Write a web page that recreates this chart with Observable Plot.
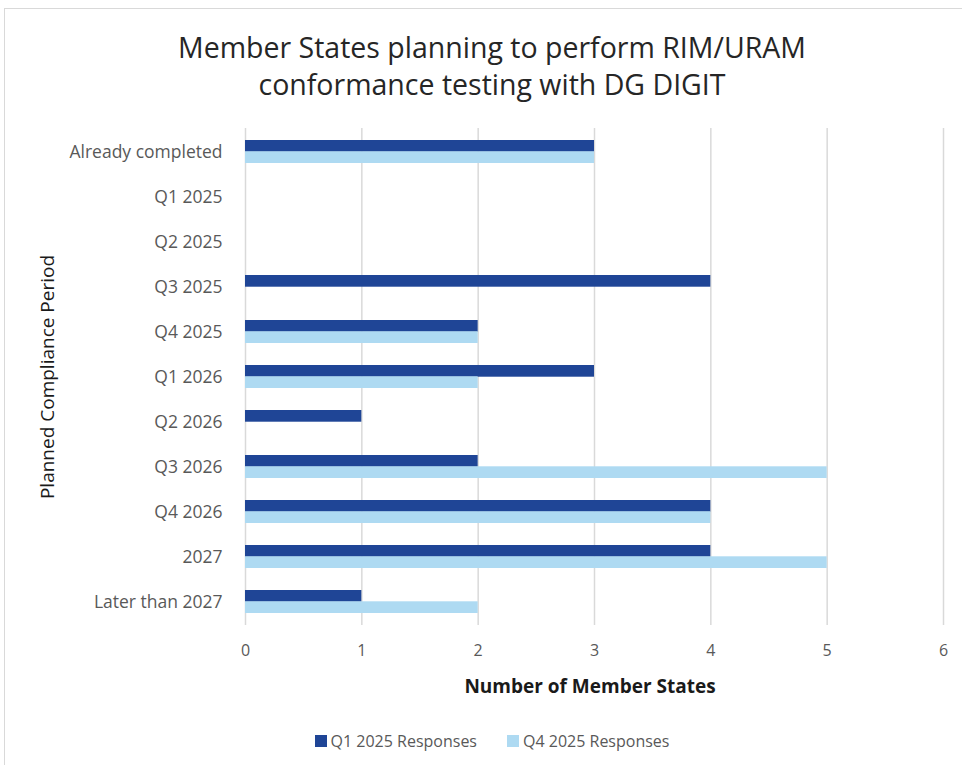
<!DOCTYPE html>
<html><head><meta charset="utf-8">
<script src="https://cdn.jsdelivr.net/npm/d3@7"></script>
<script src="https://cdn.jsdelivr.net/npm/@observablehq/plot@0.6"></script>
<style>
body{margin:0;background:#fff;font-family:"Open Sans",sans-serif;width:962px;height:765px;overflow:hidden;position:relative;}
#frame{position:absolute;left:4px;top:8px;width:990px;height:800px;border:1px solid #d9d9d9;box-sizing:border-box;}
#title{position:absolute;left:22px;width:940px;top:29px;text-align:center;font-size:28.5px;line-height:37px;color:#262626;}
#chart{position:absolute;left:0;top:100px;}
#ylab{position:absolute;left:47px;top:377px;transform:translate(-50%,-50%) rotate(-90deg);white-space:nowrap;font-size:19px;color:#1a1a1a;}
#xlab{position:absolute;left:590px;top:686px;transform:translate(-50%,-50%);white-space:nowrap;font-size:19px;font-weight:bold;color:#1a1a1a;}
#legend{position:absolute;left:0;width:984px;top:730px;display:flex;justify-content:center;gap:30px;font-size:16px;color:#595959;}
.item{display:flex;align-items:center;gap:4px;}
.sw{width:12px;height:12px;display:inline-block;}
</style></head><body>
<div id="frame"></div>
<div id="title">Member States planning to perform RIM/URAM<br>conformance testing with DG DIGIT</div>
<div id="chart"></div>
<div id="ylab">Planned Compliance Period</div>
<div id="xlab">Number of Member States</div>
<div id="legend"></div>
<script>
const categories = ["Already completed","Q1 2025","Q2 2025","Q3 2025","Q4 2025","Q1 2026","Q2 2026","Q3 2026","Q4 2026","2027","Later than 2027"];
const q1Responses = [3,0,0,4,2,3,1,2,4,4,1];
const q4Responses = [3,0,0,0,2,2,0,5,4,5,2];
const seriesNames = ["Q1 2025 Responses","Q4 2025 Responses"];
const seriesColors = ["#1F4596","#AEDAF2"];
const xTicks = [0,1,2,3,4,5,6];

const rows = categories.map((c,i)=>({cat:c, q1:q1Responses[i], q4:q4Responses[i]}));
const W=962,H=600,mt=28,mb=75,ml=245,mr=19;
const step=(H-mt-mb)/(categories.length);
const half=step*0.5/2;

const chart = Plot.plot({
  width:W,height:H,marginTop:mt,marginBottom:mb,marginLeft:ml,marginRight:mr,
  style:{fontFamily:"Open Sans",fontSize:"16px",color:"#595959",background:"transparent",overflow:"visible"},
  x:{domain:[0,6],label:null},
  y:{domain:categories,paddingInner:0.5,paddingOuter:0.25,label:null},
  marks:[
    Plot.ruleX(xTicks,{stroke:"#d9d9d9",strokeWidth:1.5}),
    Plot.barX(rows.filter(d=>d.q1>0),{x:"q1",y:"cat",fill:seriesColors[0],insetBottom:half}),
    Plot.barX(rows.filter(d=>d.q4>0),{x:"q4",y:"cat",fill:seriesColors[1],insetTop:half}),
    Plot.axisX({ticks:xTicks,tickSize:0,tickPadding:19,label:null,fontSize:16,tickFormat:d=>String(d)}),
    Plot.axisY({tickSize:0,tickPadding:23,label:null,fontSize:17.5})
  ]
});
document.getElementById("chart").appendChild(chart);

const leg=document.getElementById("legend");
seriesNames.forEach((n,i)=>{
  const it=document.createElement("div");it.className="item";
  const sw=document.createElement("span");sw.className="sw";sw.style.background=seriesColors[i];
  const t=document.createElement("span");t.textContent=n;
  it.appendChild(sw);it.appendChild(t);leg.appendChild(it);
});
</script>
</body></html>
